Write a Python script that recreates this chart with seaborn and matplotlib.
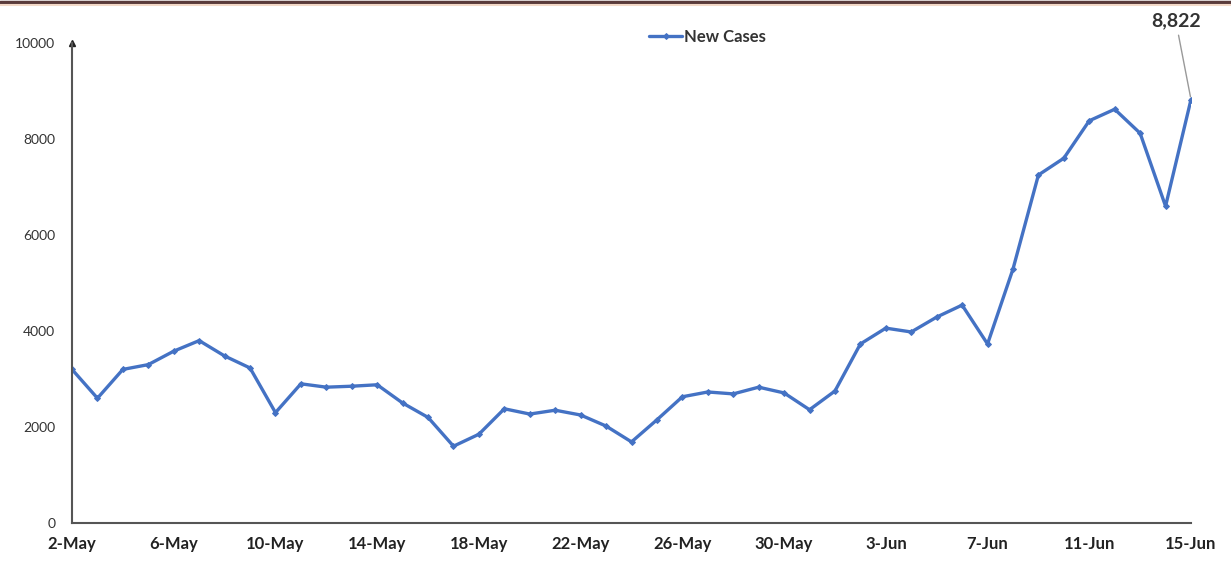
import numpy as np
import pandas as pd
import seaborn as sns
import matplotlib.pyplot as plt
from matplotlib.lines import Line2D

# --- data ---
dates = pd.date_range("2020-05-02", "2020-06-15", freq="D")
new_cases = [3200, 2600, 3200, 3300, 3580, 3800, 3480, 3230, 2300, 2900,
             2830, 2850, 2880, 2500, 2200, 1600, 1850, 2380, 2270, 2350,
             2250, 2020, 1690, 2150, 2630, 2730, 2690, 2830, 2710, 2360,
             2750, 3730, 4060, 3980, 4290, 4540, 3730, 5290, 7250, 7600,
             8380, 8620, 8120, 6600, 8822]
y_ticks = [0, 2000, 4000, 6000, 8000, 10000]

df = pd.DataFrame({"day": np.arange(len(dates)), "New Cases": new_cases})
tick_days = df["day"][::4]
tick_labels = [f"{d.day}-{d.strftime('%b')}" for d in dates[::4]]

sns.set_theme(style="white")
plt.rcParams["font.family"] = ["Lato", "DejaVu Sans"]

fig = plt.figure(figsize=(12.31, 5.65), dpi=100)
ax = fig.add_axes([0.0585, 0.0743, 0.909, 0.8496])

line_color = "#4472C4"
sns.lineplot(data=df, x="day", y="New Cases", ax=ax, color=line_color,
             linewidth=2.4, marker="D", markersize=3,
             markeredgecolor=line_color, label="New Cases")

ax.set_xlim(0, len(dates) - 1)
ax.set_ylim(0, 10000)
ax.set_xticks(tick_days)
ax.set_xticklabels(tick_labels, fontsize=12, fontweight="bold", color="#222222")
ax.set_yticks(y_ticks)
ax.set_yticklabels([str(v) for v in y_ticks], fontsize=10, color="#333333")
ax.set_xlabel("")
ax.set_ylabel("")

for side in ["top", "right"]:
    ax.spines[side].set_visible(False)
for side in ["left", "bottom"]:
    ax.spines[side].set_color("#555555")
    ax.spines[side].set_linewidth(1.5)
ax.tick_params(axis="x", direction="inout", length=7, width=1.2, color="#555555", pad=6)
ax.tick_params(axis="y", length=0, pad=12)
ax.plot(0, 1.0, marker="^", color="#222222", markersize=5,
        transform=ax.transAxes, clip_on=False)

# label on the last point
ax.annotate(f"{new_cases[-1]:,}", xy=(df["day"].iloc[-1], new_cases[-1]),
            xytext=(df["day"].iloc[-1] - 0.6, 10350),
            fontsize=14, fontweight="bold", color="#333333", ha="center",
            annotation_clip=False,
            arrowprops=dict(arrowstyle="-", color="#999999", lw=1))

leg = ax.legend(loc="upper center", bbox_to_anchor=(0.568, 1.06), frameon=False,
                fontsize=12, handlelength=2, handletextpad=0.1)
for t in leg.get_texts():
    t.set_fontweight("bold")
    t.set_color("#333333")

# thin dark border across the top of the picture
fig.add_artist(Line2D([0, 1], [0.997, 0.997], transform=fig.transFigure,
                      color="#5a3b3b", linewidth=2.5))
fig.add_artist(Line2D([0, 1], [0.991, 0.991], transform=fig.transFigure,
                      color="#f3d9c8", linewidth=1.5))

plt.savefig("out.png", dpi=100)
